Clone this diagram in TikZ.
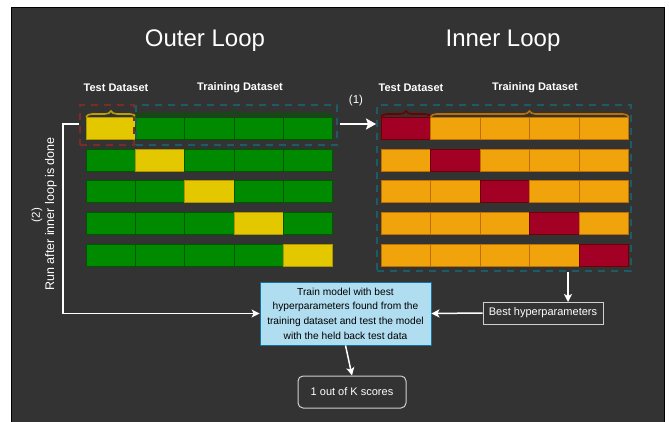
\documentclass[tikz,border=0pt]{standalone}
\usepackage{fontspec}
\setmainfont{Liberation Sans}
\usetikzlibrary{decorations.pathreplacing,arrows.meta,calc}
\definecolor{bgc}{HTML}{333333}
\definecolor{gfill}{HTML}{008A00}
\definecolor{gline}{HTML}{005700}
\definecolor{yfill}{HTML}{E3C800}
\definecolor{yline}{HTML}{B09500}
\definecolor{ofill}{HTML}{F0A30A}
\definecolor{oline}{HTML}{BD7000}
\definecolor{rfill}{HTML}{A20025}
\definecolor{rline}{HTML}{6F0000}
\definecolor{tealc}{HTML}{1B5C66}
\definecolor{redd}{HTML}{7A2C26}
\definecolor{bfill}{HTML}{B1DDF0}
\definecolor{bline}{HTML}{10739E}
\definecolor{boxline}{HTML}{D0D0D0}
\begin{document}
\begin{tikzpicture}[x=1pt,y=-1pt,
  cellbase/.style={rectangle,inner sep=0pt,minimum width=49.3pt,minimum height=22pt,anchor=north west,line width=0.8pt},
  ocellG/.style={cellbase,fill=gfill,draw=gline},
  ocellT/.style={cellbase,fill=yfill,draw=yline},
  icellO/.style={cellbase,fill=ofill,draw=oline},
  icellR/.style={cellbase,fill=rfill,draw=rline},
  dbox/.style={rectangle,inner sep=0pt,line width=2pt,dash pattern=on 7pt off 6pt},
  bracestyle/.style={decorate,decoration={brace,amplitude=6pt},line width=1.6pt},
  title/.style={text=white,font=\fontsize{24}{28}\selectfont},
  hdr/.style={text=white,font=\bfseries\fontsize{11}{13}\selectfont},
  lbl/.style={text=white,font=\fontsize{11.5}{13}\selectfont},
  arr/.style={draw=white,line width=1.5pt,-{Stealth[length=8pt,width=8pt,inset=2pt]}},
  wline/.style={draw=white,line width=1.5pt}
]
\useasboundingbox (0,0) rectangle (669,422);
\fill[white] (0,0) rectangle (669,422);
\fill[bgc] (11,7) rectangle (664,422);
\draw[black,line width=0.8pt] (11,422) -- (11,7) -- (664,7) -- (664,422);

% titles
\node[title] (tout) at (205,41) {Outer Loop};
\node[title] (tin) at (503,41) {Inner Loop};

% headers
\node[hdr] (hot) at (116,88) {Test Dataset};
\node[hdr] (hotr) at (240,88) {Training Dataset};
\node[hdr] (hit) at (411,88) {Test Dataset};
\node[hdr] (hitr) at (535,88) {Training Dataset};

% outer cells
\foreach \r in {1,...,5} {
  \foreach \c in {1,...,5} {
    \ifnum\r=\c
      \node[ocellT] (o\r\c) at ({86+(\c-1)*49.2},{117+(\r-1)*31.75}) {};
    \else
      \node[ocellG] (o\r\c) at ({86+(\c-1)*49.2},{117+(\r-1)*31.75}) {};
    \fi
  }
}
% inner cells
\foreach \r in {1,...,5} {
  \foreach \c in {1,...,5} {
    \ifnum\r=\c
      \node[icellR] (i\r\c) at ({381+(\c-1)*49.4},{117+(\r-1)*31.75}) {};
    \else
      \node[icellO] (i\r\c) at ({381+(\c-1)*49.4},{117+(\r-1)*31.75}) {};
    \fi
  }
}

% dashed boxes
\node[dbox,draw=redd,minimum width=54pt,minimum height=40pt] (redbox) at (107,125) {};
\node[dbox,draw=tealc,minimum width=201pt,minimum height=40pt] (obox) at (236.5,125) {};
\node[dbox,draw=tealc,minimum width=254pt,minimum height=166pt] (ibox) at (504,188) {};

% braces
\draw[bracestyle,draw=yline!80!yfill] (o11.north west) -- (o11.north east);
\draw[bracestyle,draw=gline] (o12.north west) -- (o15.north east);
\draw[bracestyle,draw=rline] (i11.north west) -- (i11.north east);
\draw[bracestyle,draw=oline] (i12.north west) -- (i15.north east);

% arrow (1)
\draw[draw=white,line width=2.5pt,-{Stealth[length=10pt,width=11pt,inset=2pt]}] (obox.east) ++(2,-1) coordinate (a1s) -- (a1s -| ibox.west);
\node[lbl] (l1) at (356,101) {(1)};

% bottom boxes
\node[rectangle,draw=bline,fill=bfill,line width=0.8pt,minimum width=171pt,minimum height=63pt,inner sep=0pt,
      align=center,font=\fontsize{10.2}{14.7}\selectfont,text=black] (train) at (345.5,313.5)
      {Train model with best\\hyperparameters found from the\\training dataset and test the model\\with the held back test data};
\node[rectangle,draw=boxline,fill=bgc,line width=1pt,minimum width=120pt,minimum height=22pt,inner sep=0pt,
      text=white,font=\fontsize{11}{13}\selectfont] (best) at (543,313) {Best hyperparameters};
\node[rectangle,rounded corners=5pt,draw=boxline,fill=bgc,line width=1pt,minimum width=108pt,minimum height=32pt,inner sep=0pt,
      text=white,font=\fontsize{11}{13}\selectfont] (score) at (352,392) {1 out of K scores};

% connectors
\coordinate (bin) at (568,302);
\draw[arr] (bin |- ibox.south) -- (bin);
\draw[arr] (best.west) -- (train.east);
\draw[arr] (train.south) -- (score.north);
\coordinate (lc) at (63,124);
\draw[arr] (redbox.west |- lc) -- (lc) -- (lc |- train.west) -- (train.west);

% left labels
\node[lbl,rotate=90,font=\fontsize{12.5}{14}\selectfont] (runlbl) at (51,214) {Run after inner loop is done};
\node[lbl,rotate=90] (l2) at (37,215) {(2)};
\end{tikzpicture}
\end{document}
